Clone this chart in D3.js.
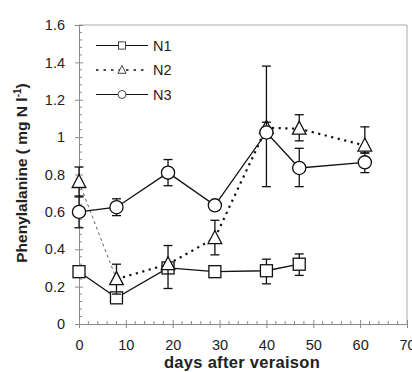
<!DOCTYPE html>
<html><head><meta charset="utf-8">
<script src="https://cdn.jsdelivr.net/npm/d3@7"></script>
<style>body{margin:0;background:#fff}svg{display:block}text{font-family:"Liberation Sans",Arial,sans-serif}</style>
</head><body>
<svg id="c" width="412" height="372"></svg>
<script>
// ---- data ----
const days1 = [0, 8, 19, 29, 40, 47];
const n1 = [0.28, 0.14, 0.30, 0.28, 0.285, 0.32];
const n1Up = [0.02, 0.02, 0.02, 0.02, 0.062, 0.055];
const n1Down = [0.02, 0.02, 0.02, 0.02, 0.07, 0.06];

const days2 = [0, 8, 19, 29, 40, 47, 61];
const n2 = [0.76, 0.24, 0.32, 0.46, 1.05, 1.045, 0.955];
const n2Up = [0.08, 0.08, 0.10, 0.095, 0.03, 0.075, 0.10];
const n2Down = [0.08, 0.08, 0.13, 0.09, 0.055, 0.065, 0.04];

const days3 = [0, 8, 19, 29, 40, 47, 61];
const n3 = [0.60, 0.625, 0.81, 0.635, 1.025, 0.835, 0.865];
const n3Up = [0.085, 0.045, 0.07, 0.02, 0.355, 0.105, 0.05];
const n3Down = [0.085, 0.045, 0.07, 0.02, 0.29, 0.10, 0.055];

const xTicks = [0, 10, 20, 30, 40, 50, 60, 70];
const yTicks = [0, 0.2, 0.4, 0.6, 0.8, 1, 1.2, 1.4, 1.6];
const legendLabels = ["N1", "N2", "N3"];

// ---- chart ----
const svg = d3.select("#c");
const x = d3.scaleLinear().domain([0, 70]).range([79, 407]);
const y = d3.scaleLinear().domain([0, 1.6]).range([324, 25]);
const axisCol = "#8a8a8a";

// frame top/right
svg.append("line").attr("x1", x(0)).attr("x2", x(70)).attr("y1", y(1.6)).attr("y2", y(1.6)).attr("stroke", "#aaa").attr("stroke-width", 1);
svg.append("line").attr("x1", x(70)).attr("x2", x(70)).attr("y1", y(1.6)).attr("y2", y(0)).attr("stroke", "#aaa").attr("stroke-width", 1);

// minor ticks
const yMinor = d3.range(0, 1.601, 0.04).filter(v => Math.abs(v * 5 - Math.round(v * 5)) > 1e-6);
const xMinor = d3.range(0, 70.01, 2).filter(v => v % 10 !== 0);
svg.append("g").selectAll("line").data(yMinor).join("line")
  .attr("x1", x(0)).attr("x2", x(0) + 3).attr("y1", d => y(d)).attr("y2", d => y(d))
  .attr("stroke", axisCol).attr("stroke-width", 1);
svg.append("g").selectAll("line").data(xMinor).join("line")
  .attr("x1", d => x(d)).attr("x2", d => x(d)).attr("y1", y(0)).attr("y2", y(0) - 3)
  .attr("stroke", axisCol).attr("stroke-width", 1);

// axes
const yAxis = svg.append("g").attr("transform", `translate(${x(0)},0)`)
  .call(d3.axisLeft(y).tickValues(yTicks).tickFormat(d => d3.format("~g")(d)).tickSize(4).tickPadding(10));
const xAxis = svg.append("g").attr("transform", `translate(0,${y(0)})`)
  .call(d3.axisBottom(x).tickValues(xTicks).tickSize(4).tickPadding(12));
[yAxis, xAxis].forEach(a => {
  a.select(".domain").attr("stroke", axisCol);
  a.selectAll(".tick line").attr("stroke", axisCol);
  a.selectAll(".tick text").attr("fill", "#222").style("font-size", "14.5px").style("font-family", "'Liberation Sans',Arial,sans-serif");
});
// major ticks cross axis
yAxis.selectAll(".tick").append("line").attr("x1", 0).attr("x2", 4).attr("stroke", axisCol);
xAxis.selectAll(".tick").append("line").attr("y1", 0).attr("y2", -4).attr("stroke", axisCol);

// series
const series = [
  {days: days1, v: n1, up: n1Up, dn: n1Down, sym: "square", dash: null},
  {days: days2, v: n2, up: n2Up, dn: n2Down, sym: "triangle", dash: "2.2,4.5"},
  {days: days3, v: n3, up: n3Up, dn: n3Down, sym: "circle", dash: null}
];
const line = d3.line().x(d => x(d[0])).y(d => y(d[1]));

function drawMarker(g, sym, cx, cy) {
  if (sym === "square") {
    g.append("rect").attr("x", cx - 6).attr("y", cy - 6).attr("width", 12).attr("height", 12)
      .attr("fill", "#fff").attr("stroke", "#111").attr("stroke-width", 1.3);
  } else if (sym === "triangle") {
    g.append("path").attr("d", `M${cx},${cy - 7.5}L${cx + 6.8},${cy + 5.5}L${cx - 6.8},${cy + 5.5}Z`)
      .attr("fill", "#fff").attr("stroke", "#111").attr("stroke-width", 1.3);
  } else {
    g.append("circle").attr("cx", cx).attr("cy", cy).attr("r", 6.6)
      .attr("fill", "#fff").attr("stroke", "#111").attr("stroke-width", 1.3);
  }
}

const gLines = svg.append("g");
series.forEach(s => {
  const pts = s.days.map((d, i) => [d, s.v[i]]);
  if (s.dash) {
    gLines.append("path").attr("d", line(pts.slice(0, 2))).attr("fill", "none")
      .attr("stroke", "#555").attr("stroke-width", 0.9).attr("stroke-dasharray", "3,3");
    gLines.append("path").attr("d", line(pts.slice(1))).attr("fill", "none")
      .attr("stroke", "#111").attr("stroke-width", 2.2).attr("stroke-dasharray", s.dash);
  } else {
    gLines.append("path").attr("d", line(pts)).attr("fill", "none")
      .attr("stroke", "#111").attr("stroke-width", 1.3);
  }
});
series.forEach(s => {
  const g = svg.append("g");
  s.days.forEach((d, i) => {
    const cx = x(d), top = y(s.v[i] + s.up[i]), bot = y(s.v[i] - s.dn[i]);
    g.append("line").attr("x1", cx).attr("x2", cx).attr("y1", top).attr("y2", bot).attr("stroke", "#111").attr("stroke-width", 1.3);
    g.append("line").attr("x1", cx - 4.5).attr("x2", cx + 4.5).attr("y1", top).attr("y2", top).attr("stroke", "#111").attr("stroke-width", 1.3);
    g.append("line").attr("x1", cx - 4.5).attr("x2", cx + 4.5).attr("y1", bot).attr("y2", bot).attr("stroke", "#111").attr("stroke-width", 1.3);
  });
  s.days.forEach((d, i) => drawMarker(g, s.sym, x(d), y(s.v[i])));
});

// legend
const lg = svg.append("g");
legendLabels.forEach((lab, i) => {
  const ly = 45.5 + i * 24.5;
  const s = series[i];
  lg.append("line").attr("x1", 96).attr("x2", 148).attr("y1", ly).attr("y2", ly)
    .attr("stroke", "#111").attr("stroke-width", s.dash ? 1.6 : 1.1).attr("stroke-dasharray", s.dash ? "2.5,5" : null);
  const mg = lg.append("g").attr("transform", `translate(122,${ly}) scale(0.6) translate(-122,${-ly})`);
  drawMarker(mg, s.sym, 122, ly);
  lg.append("text").attr("x", 153).attr("y", ly + 5).attr("fill", "#222").style("font-size", "14.5px").text(lab);
});

// axis titles
svg.append("text").attr("x", 242).attr("y", 368).attr("text-anchor", "middle")
  .style("font-size", "16.5px").style("font-weight", "bold").attr("fill", "#222").style("letter-spacing", "0.3px")
  .text("days after veraison");
const yt = svg.append("text").attr("transform", "translate(27,173) rotate(-90)").attr("text-anchor", "middle")
  .style("font-size", "15.5px").style("font-weight", "bold").attr("fill", "#222");
yt.append("tspan").text("Phenylalanine ( mg N l");
yt.append("tspan").attr("dy", -6).style("font-size", "10px").text("-1");
yt.append("tspan").attr("dy", 6).text(")");
</script>
</body></html>
